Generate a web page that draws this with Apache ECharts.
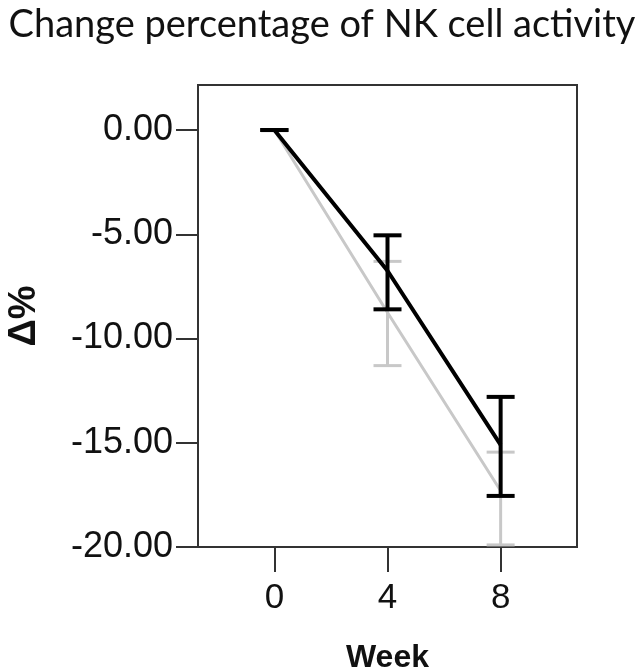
<!DOCTYPE html>
<html>
<head>
<meta charset="utf-8">
<script src="https://cdn.jsdelivr.net/npm/echarts@6/dist/echarts.min.js"></script>
<style>
  html, body { margin: 0; padding: 0; background: #fff; }
  #chart { width: 644px; height: 672px; }
</style>
</head>
<body>
<div id="chart"></div>
<script>
// weeks on the x axis
const weeks = [0, 4, 8];
const xTicks = [0, 4, 8];
const yTicks = [-20, -15, -10, -5, 0];

// dark group (front)
const darkMean = [0, -6.75, -15.1];
const darkUpper = [0, -5.05, -12.8];
const darkLower = [0, -8.6, -17.55];

// light group (behind)
const lightMean = [0, -8.75, -17.3];
const lightUpper = [0, -6.3, -15.45];
const lightLower = [0, -11.3, -19.9];

const chart = echarts.init(document.getElementById('chart'));

function lineData(mean) {
  return weeks.map((w, i) => [w, mean[i]]);
}

function barData(upper, lower) {
  return weeks.map((w, i) => [w, upper[i], lower[i]]);
}

function errorBar(color, width) {
  return function (params, api) {
    const top = api.coord([api.value(0), api.value(1)]);
    const bot = api.coord([api.value(0), api.value(2)]);
    const half = 14;
    const style = { stroke: color, lineWidth: width, fill: null };
    return {
      type: 'group',
      children: [
        { type: 'line', shape: { x1: top[0], y1: top[1], x2: bot[0], y2: bot[1] }, style: style },
        { type: 'line', shape: { x1: top[0] - half, y1: top[1], x2: top[0] + half, y2: top[1] }, style: style },
        { type: 'line', shape: { x1: bot[0] - half, y1: bot[1], x2: bot[0] + half, y2: bot[1] }, style: style }
      ]
    };
  };
}

const axisColor = '#333';

const option = {
  animation: false,
  title: {
    text: 'Change percentage of NK cell activity',
    left: 'center',
    top: 1,
    textStyle: {
      fontFamily: 'Lato',
      fontWeight: 'normal',
      fontSize: 38,
      color: '#111'
    }
  },
  grid: {
    left: 198,
    top: 85,
    right: 67,
    bottom: 125,
    outerBoundsMode: 'none',
    show: true,
    borderColor: axisColor,
    borderWidth: 2
  },
  xAxis: {
    type: 'value',
    min: -2.7,
    max: 10.7,
    name: 'Week',
    nameLocation: 'middle',
    nameGap: 95,
    nameTextStyle: {
      fontFamily: 'Liberation Sans',
      fontWeight: 'bold',
      fontSize: 32,
      color: '#111'
    },
    splitLine: { show: false },
    axisLine: { show: true, onZero: false, lineStyle: { color: axisColor, width: 2 } },
    axisTick: {
      show: true,
      customValues: xTicks,
      length: 25,
      lineStyle: { color: axisColor, width: 2 }
    },
    axisLabel: {
      customValues: xTicks,
      margin: 34,
      fontFamily: 'Liberation Sans',
      fontSize: 35,
      color: '#111'
    }
  },
  yAxis: {
    type: 'value',
    min: -20,
    max: 2.16,
    interval: 5,
    name: 'Δ%',
    nameLocation: 'middle',
    nameGap: 154,
    nameRotate: 90,
    nameTextStyle: {
      fontFamily: 'Liberation Sans',
      fontWeight: 'bold',
      fontSize: 38,
      color: '#111'
    },
    splitLine: { show: false },
    axisLine: { show: true, onZero: false, lineStyle: { color: axisColor, width: 2 } },
    axisTick: {
      show: true,
      length: 22,
      lineStyle: { color: axisColor, width: 2 }
    },
    axisLabel: {
      margin: 25,
      fontFamily: 'Liberation Sans',
      fontSize: 36,
      color: '#111',
      showMaxLabel: false,
      formatter: v => (yTicks.includes(v) ? v.toFixed(2) : '')
    }
  },
  series: [
    {
      type: 'line',
      data: lineData(lightMean),
      symbol: 'none',
      lineStyle: { color: '#c8c8c8', width: 3 },
      z: 2
    },
    {
      type: 'custom',
      data: barData(lightUpper, lightLower),
      renderItem: errorBar('#c8c8c8', 3),
      z: 3
    },
    {
      type: 'line',
      data: lineData(darkMean),
      symbol: 'none',
      lineStyle: { color: '#000', width: 4 },
      z: 4
    },
    {
      type: 'custom',
      data: barData(darkUpper, darkLower),
      renderItem: errorBar('#000', 4),
      z: 5
    }
  ]
};

chart.setOption(option);
</script>
</body>
</html>
